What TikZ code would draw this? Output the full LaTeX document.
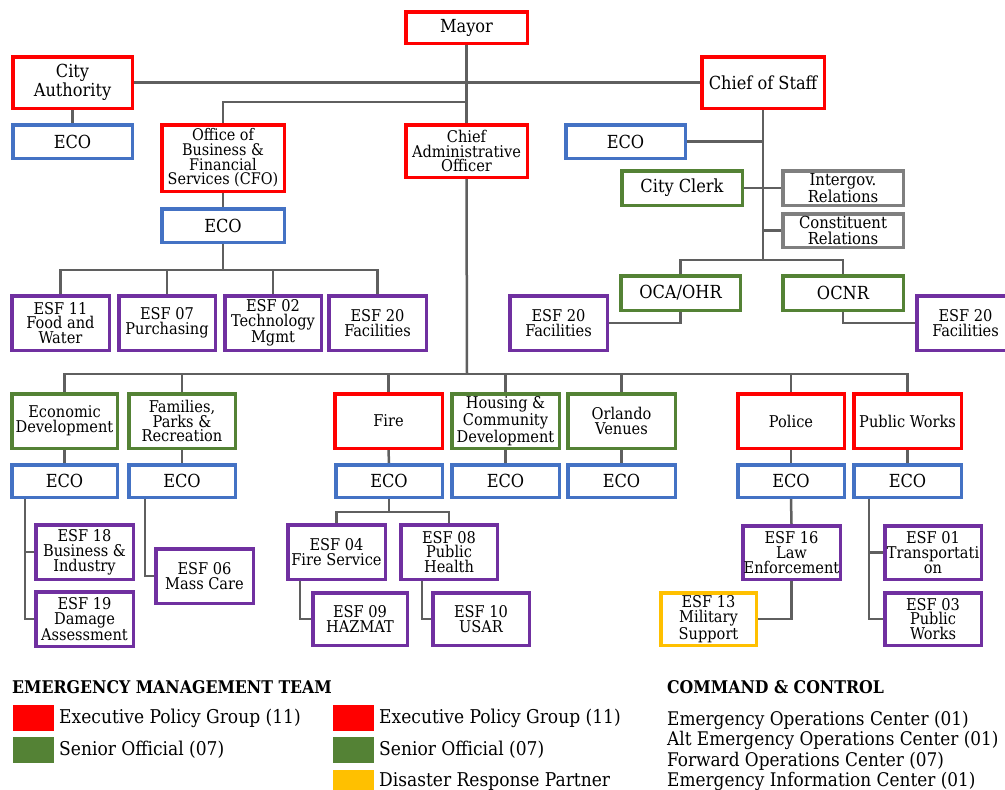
\documentclass[tikz,border=0pt]{standalone}
\usepackage{fontspec}
\setmainfont{DejaVu Serif Condensed}
\usetikzlibrary{backgrounds}
\definecolor{cred}{HTML}{FF0000}
\definecolor{cgreen}{HTML}{548235}
\definecolor{cblue}{HTML}{4472C4}
\definecolor{cpurple}{HTML}{7030A0}
\definecolor{cgray}{HTML}{7F7F7F}
\definecolor{cyellow}{HTML}{FFC000}
\definecolor{cline}{HTML}{5F5F5F}
\tikzset{
  box/.style={draw=#1, line width=3.5pt, fill=white, inner sep=0pt, align=center, text=black},
  conn/.style={draw=cline, line width=2.5pt},
  big/.style={font=\fontsize{18}{19.5}\selectfont},
  mid/.style={font=\fontsize{16.5}{16.5}\selectfont},
  small/.style={font=\fontsize{16.2}{14.8}\selectfont},
  cfof/.style={font=\fontsize{16}{14.6}\selectfont},
  dept/.style={font=\fontsize{16.2}{14.8}\selectfont},
  swatch/.style={fill=#1, draw=none, inner sep=0pt, minimum width=41pt, minimum height=26pt},
  legtext/.style={anchor=west, inner sep=0pt, font=\fontsize{19}{20}\selectfont},
  headtext/.style={anchor=west, inner sep=0pt, font=\fontsize{17.5}{18}\selectfont\bfseries},
}
\newcommand\mkbox[8]{%
  \node[box=#2, #7, minimum width={(#5-#3-3.5)*1pt}, minimum height={(#6-#4-3.5)*1pt}] (#1) at ({(#3+#5)/2},{(#4+#6)/2}) {#8};}
\begin{document}
\begin{tikzpicture}[x=1pt,y=-1pt]
\useasboundingbox (0,0) rectangle (1005,790);
\clip (0,0) rectangle (1005,790);
% ---- top
\mkbox{mayor}{cred}{404}{10}{529}{45}{big}{Mayor}
\mkbox{ca}{cred}{11}{55}{134}{110}{big}{City\\Authority}
\mkbox{cos}{cred}{700}{55}{826}{110}{big}{Chief of Staff}
\mkbox{ecoA}{cblue}{11}{123}{134}{160}{big}{ECO}
\mkbox{cfo}{cred}{160}{123}{286}{193}{cfof}{Office of\\Business \&\\Financial\\Services (CFO)}
\mkbox{cao}{cred}{404}{123}{529}{179}{small}{Chief\\Administrative\\Officer}
\mkbox{ecoCFO}{cblue}{160}{207}{286}{244}{big}{ECO}
\mkbox{ecoR}{cblue}{564}{123}{687}{160}{big}{ECO}
\mkbox{clerk}{cgreen}{620}{169}{744}{207}{big}{City Clerk}
\mkbox{intergov}{cgray}{781}{169}{905}{207}{mid}{Intergov.\\Relations}
\mkbox{constit}{cgray}{781}{212}{905}{249}{mid}{Constituent\\Relations}
\mkbox{oca}{cgreen}{619}{274}{742}{312}{big}{OCA/OHR}
\mkbox{ocnr}{cgreen}{781}{274}{905}{312}{big}{OCNR}
\mkbox{esf20L}{cpurple}{508}{294}{609}{352}{small}{ESF 20\\Facilities}
\mkbox{esf20R}{cpurple}{915}{294}{1016}{352}{small}{ESF 20\\Facilities}
% ---- CFO ESFs
\mkbox{esf11}{cpurple}{10}{294}{111}{352}{small}{ESF 11\\Food and\\Water}
\mkbox{esf07}{cpurple}{117}{294}{217}{352}{small}{ESF 07\\Purchasing}
\mkbox{esf02}{cpurple}{223}{294}{323}{352}{small}{ESF 02\\Technology\\Mgmt}
\mkbox{esf20a}{cpurple}{327}{294}{428}{352}{small}{ESF 20\\Facilities}
% ---- departments
\mkbox{econ}{cgreen}{10}{392}{119}{450}{dept}{Economic\\Development}
\mkbox{fam}{cgreen}{127}{392}{237}{450}{dept}{Families,\\Parks \&\\Recreation}
\mkbox{fire}{cred}{333}{392}{444}{450}{dept}{Fire}
\mkbox{hous}{cgreen}{450}{392}{561}{450}{dept}{Housing \&\\Community\\Development}
\mkbox{orl}{cgreen}{566}{392}{677}{450}{dept}{Orlando\\Venues}
\mkbox{pol}{cred}{736}{392}{846}{450}{dept}{Police}
\mkbox{pw}{cred}{852}{392}{963}{450}{dept}{Public Works}
% ---- ECO row
\mkbox{ecoE}{cblue}{10}{463}{119}{499}{big}{ECO}
\mkbox{ecoF}{cblue}{127}{463}{237}{499}{big}{ECO}
\mkbox{ecoFi}{cblue}{334}{463}{444}{499}{big}{ECO}
\mkbox{ecoH}{cblue}{450}{463}{561}{499}{big}{ECO}
\mkbox{ecoO}{cblue}{566}{463}{677}{499}{big}{ECO}
\mkbox{ecoP}{cblue}{736}{463}{846}{499}{big}{ECO}
\mkbox{ecoPW}{cblue}{852}{463}{963}{499}{big}{ECO}
% ---- lower ESFs
\mkbox{esf18}{cpurple}{34}{523}{135}{581}{small}{ESF 18\\Business \&\\Industry}
\mkbox{esf19}{cpurple}{34}{590}{135}{648}{small}{ESF 19\\Damage\\Assessment}
\mkbox{esf06}{cpurple}{154}{547}{255}{605}{small}{ESF 06\\Mass Care}
\mkbox{esf04}{cpurple}{286}{523}{387}{581}{small}{ESF 04\\Fire Service}
\mkbox{esf08}{cpurple}{399}{523}{499}{581}{small}{ESF 08\\Public\\Health}
\mkbox{esf09}{cpurple}{311}{591}{409}{647}{small}{ESF 09\\HAZMAT}
\mkbox{esf10}{cpurple}{431}{591}{531}{647}{small}{ESF 10\\USAR}
\mkbox{esf16}{cpurple}{741}{524}{842}{581}{small}{ESF 16\\Law\\Enforcement}
\mkbox{esf13}{cyellow}{659}{591}{758}{647}{small}{ESF 13\\Military\\Support}
\mkbox{esf01}{cpurple}{883}{524}{983}{581}{small}{ESF 01\\Transportati\\on}
\mkbox{esf03}{cpurple}{883}{591}{983}{647}{small}{ESF 03\\Public\\Works}
% ---- connectors
\begin{pgfonlayer}{background}
\fill[white] (0,0) rectangle (1005,790);
\coordinate (j1) at (467,102);
\coordinate (b1) at (223,270);
\coordinate (b2) at (763,260);
\coordinate (b3) at (467,374);
\coordinate (b4) at (389,512);
\coordinate (e1) at (25,0);
\coordinate (e2) at (145,0);
\coordinate (e3) at (300,0);
\coordinate (e4) at (422,0);
\coordinate (e5) at (869,0);
\draw[conn] (mayor.south) -- (cao.north);
\draw[conn] (ca.east) -- (cos.west);
\draw[conn] (j1) -| (cfo.north);
\draw[conn] (ca.south) -- (ecoA.north);
\draw[conn] (cfo.south) -- (ecoCFO.north);
\draw[conn] (ecoCFO.south) -- (b1);
\draw[conn] (esf11.north) |- (b1) -| (esf20a.north);
\draw[conn] (esf07.north) -- (esf07.north |- b1);
\draw[conn] (esf02.north) -- (esf02.north |- b1);
% chief of staff
\draw[conn] (cos.south) -- (b2);
\draw[conn] (ecoR.east) -- (ecoR.east -| b2);
\draw[conn] (clerk.east) -- (intergov.west);
\draw[conn] (constit.west) -- (constit.west -| b2);
\draw[conn] (oca.north) |- (b2) -| (ocnr.north);
\draw[conn] (oca.south) |- (esf20L.east);
\draw[conn] (ocnr.south) |- (esf20R.west);
% CAO
\draw[conn] (cao.south) -- (b3);
\draw[conn] (econ.north) |- (b3) -| (pw.north);
\foreach \d in {fam,fire,hous,orl,pol}{\draw[conn] (\d.north) -- (\d.north |- b3);}
\draw[conn] (econ.south) -- (ecoE.north);
\draw[conn] (fam.south) -- (ecoF.north);
\draw[conn] (fire.south) -- (ecoFi.north);
\draw[conn] (hous.south) -- (ecoH.north);
\draw[conn] (orl.south) -- (ecoO.north);
\draw[conn] (pol.south) -- (ecoP.north);
\draw[conn] (pw.south) -- (ecoPW.north);
% lower
\draw[conn] (ecoE.south -| e1) |- (esf19.west);
\draw[conn] (e1 |- esf18.west) -- (esf18.west);
\draw[conn] (ecoF.south -| e2) |- (esf06.west);
\draw[conn] (ecoFi.south) -- (b4);
\draw[conn] (esf04.north) |- (b4) -| (esf08.north);
\draw[conn] (esf04.south -| e3) |- (esf09.west);
\draw[conn] (esf08.south -| e4) |- (esf10.west);
\draw[conn] (ecoP.south) -- (esf16.north);
\draw[conn] (esf16.south) |- (esf13.east);
\draw[conn] (ecoPW.south -| e5) |- (esf03.west);
\draw[conn] (e5 |- esf01.west) -- (esf01.west);
\end{pgfonlayer}
% ---- legend
\node[headtext] (h1) at (12,687) {EMERGENCY MANAGEMENT TEAM};
\node[headtext] (h2) at (667,687) {COMMAND \& CONTROL};
\node[swatch=cred] (s1) at (33.5,718) {};
\node[swatch=cgreen] (s2) at (33.5,750) {};
\node[legtext] (t1) at (59,718) {Executive Policy Group (11)};
\node[legtext] (t2) at (59,750) {Senior Official (07)};
\node[swatch=cred] (s3) at (353.5,718) {};
\node[swatch=cgreen] (s4) at (353.5,750) {};
\node[swatch=cyellow] (s5) at (353.5,783) {};
\node[legtext] (t3) at (379,718) {Executive Policy Group (11)};
\node[legtext] (t4) at (379,750) {Senior Official (07)};
\node[legtext] (t5) at (379,781) {Disaster Response Partner};
\node[anchor=north west, inner sep=0pt, align=left, font=\fontsize{18.8}{20.5}\selectfont] (cc) at (667,711) {Emergency Operations Center (01)\\Alt Emergency Operations Center (01)\\Forward Operations Center (07)\\Emergency Information Center (01)};
\end{tikzpicture}
\end{document}
